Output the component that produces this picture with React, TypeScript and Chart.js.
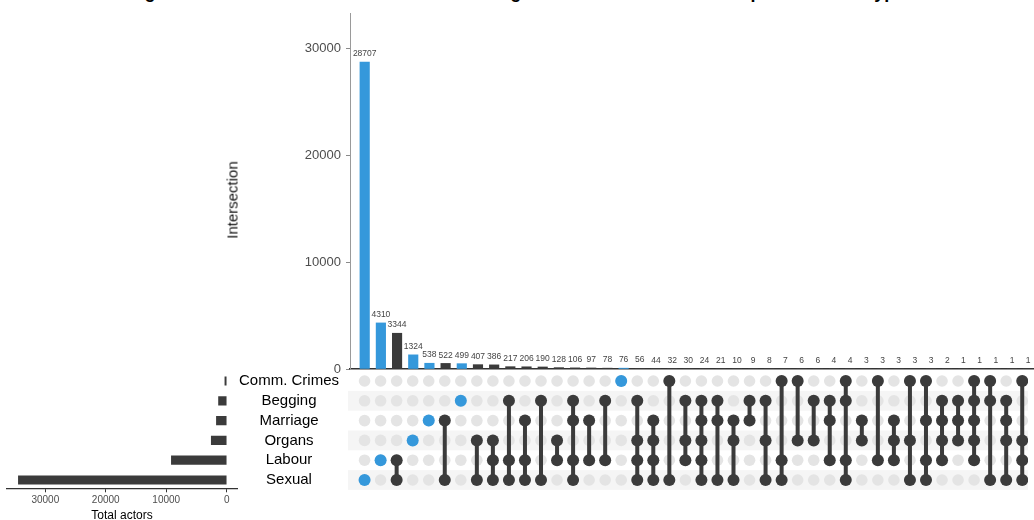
import React, { useEffect, useRef } from "react";
import { Chart, registerables } from "chart.js";

Chart.register(...registerables);

// ---------- data ----------
const TITLE =
  "Figure 5: Total number of identified trafficking actors involved in each exploitation subtype";

// set rows, bottom to top
const SETS = ["Sexual", "Labour", "Organs", "Marriage", "Begging", "Comm. Crimes"];
const SET_TOTALS = [34450, 9150, 2550, 1700, 1350, 300];

const INTERSECTION_COUNTS = [
  28707, 4310, 3344, 1324, 538, 522, 499, 407, 386, 217, 206, 190, 128, 106, 97, 78, 76, 56, 44, 32,
  30, 24, 21, 10, 9, 8, 7, 6, 6, 4, 4, 3, 3, 3, 3, 3, 2, 1, 1, 1, 1, 1,
];

const INTERSECTION_MEMBERS: string[][] = [
  ["Sexual"],
  ["Labour"],
  ["Labour", "Sexual"],
  ["Organs"],
  ["Marriage"],
  ["Marriage", "Sexual"],
  ["Begging"],
  ["Organs", "Sexual"],
  ["Organs", "Labour", "Sexual"],
  ["Begging", "Labour", "Sexual"],
  ["Marriage", "Labour", "Sexual"],
  ["Begging", "Sexual"],
  ["Organs", "Labour"],
  ["Begging", "Marriage", "Labour", "Sexual"],
  ["Marriage", "Labour"],
  ["Begging", "Labour"],
  ["Comm. Crimes"],
  ["Begging", "Organs", "Labour", "Sexual"],
  ["Marriage", "Organs", "Labour", "Sexual"],
  ["Comm. Crimes", "Sexual"],
  ["Begging", "Organs", "Labour"],
  ["Begging", "Marriage", "Organs", "Labour", "Sexual"],
  ["Begging", "Marriage", "Sexual"],
  ["Marriage", "Organs", "Sexual"],
  ["Begging", "Marriage"],
  ["Begging", "Organs", "Sexual"],
  ["Comm. Crimes", "Labour", "Sexual"],
  ["Comm. Crimes", "Organs"],
  ["Begging", "Organs"],
  ["Begging", "Marriage", "Labour"],
  ["Comm. Crimes", "Begging", "Labour", "Sexual"],
  ["Marriage", "Organs"],
  ["Comm. Crimes", "Labour"],
  ["Marriage", "Organs", "Labour"],
  ["Comm. Crimes", "Organs", "Sexual"],
  ["Comm. Crimes", "Marriage", "Labour", "Sexual"],
  ["Begging", "Marriage", "Organs", "Labour"],
  ["Begging", "Marriage", "Organs"],
  ["Comm. Crimes", "Begging", "Marriage", "Organs", "Labour"],
  ["Comm. Crimes", "Begging", "Sexual"],
  ["Begging", "Marriage", "Organs", "Sexual"],
  ["Comm. Crimes", "Organs", "Labour", "Sexual"],
];

const INTERSECTION_TICKS = [0, 10000, 20000, 30000];
const SET_SIZE_TICKS = [0, 10000, 20000, 30000];

// ---------- styles ----------
const FONT = "'Liberation Sans', Arial, Helvetica, sans-serif";
const BLUE = "#3598DB";
const DARK = "#3B3B3B";
const EMPTY = "#E4E4E4";
const BAND = "#F5F5F5";

const X_MIN = -0.908;
const X_MAX = 41.36;

const valueLabels = {
  id: "valueLabels",
  afterDatasetsDraw(chart: any) {
    const ctx = chart.ctx;
    const meta = chart.getDatasetMeta(0);
    ctx.save();
    ctx.font = `8.5px ${FONT}`;
    ctx.fillStyle = "#444444";
    ctx.textAlign = "center";
    ctx.textBaseline = "bottom";
    meta.data.forEach((el: any, i: number) => {
      ctx.fillText(String(INTERSECTION_COUNTS[i]), el.x, el.y - 4);
    });
    ctx.restore();
  },
};

const rowBands = {
  id: "rowBands",
  beforeDatasetsDraw(chart: any) {
    const { ctx, chartArea, scales } = chart;
    const y = scales.y;
    ctx.save();
    ctx.fillStyle = BAND;
    [0, 2, 4].forEach((r) => {
      const t = y.getPixelForValue(r + 0.5);
      const b = y.getPixelForValue(r - 0.5);
      ctx.fillRect(chartArea.left - 2, t, chartArea.right - chartArea.left + 2, b - t);
    });
    ctx.restore();
  },
};

const plain = (v: any) => String(v);

export default function App() {
  const barRef = useRef<HTMLCanvasElement>(null);
  const matRef = useRef<HTMLCanvasElement>(null);
  const setRef = useRef<HTMLCanvasElement>(null);

  useEffect(() => {
    const charts: Chart[] = [];

    // intersection bars
    charts.push(
      new Chart(barRef.current!, {
        type: "bar",
        data: {
          datasets: [
            {
              data: INTERSECTION_COUNTS.map((v, i) => ({ x: i, y: v })) as any,
              backgroundColor: INTERSECTION_MEMBERS.map((m) => (m.length === 1 ? BLUE : DARK)),
              barThickness: 9.5,
              borderWidth: 0,
            },
          ],
        },
        options: {
          animation: false,
          responsive: false,
          layout: { padding: { top: 13, left: 0, right: 0, bottom: 0 } },
          plugins: { legend: { display: false }, tooltip: { enabled: false } },
          scales: {
            x: {
              type: "linear",
              min: X_MIN,
              max: X_MAX,
              offset: false,
              grid: { display: false },
              ticks: { display: false },
              border: { display: true, color: "#333333", width: 1.5 },
              afterFit: (s: any) => {
                s.height = 21;
              },
            },
            y: {
              type: "linear",
              min: 0,
              max: 33300,
              grid: { display: true, drawOnChartArea: false, drawTicks: true, tickLength: 4, color: "#8a8a8a" },
              border: { display: true, color: "#9a9a9a", width: 1 },
              ticks: { font: { family: FONT, size: 13 }, color: "#4d4d4d", padding: 5, callback: plain },
              afterBuildTicks: (s: any) => {
                s.ticks = INTERSECTION_TICKS.map((v) => ({ value: v }));
              },
              afterFit: (s: any) => {
                s.width = 350;
              },
            },
          },
        } as any,
        plugins: [valueLabels],
      })
    );

    // matrix
    const emptyPts: any[] = [];
    const linkPts: any[] = [];
    INTERSECTION_MEMBERS.forEach((members, i) => {
      SETS.forEach((_, r) => emptyPts.push({ x: i, y: r }));
      const rows = members.map((m) => SETS.indexOf(m)).sort((a, b) => a - b);
      const col = members.length === 1 ? BLUE : DARK;
      rows.forEach((r) => linkPts.push({ x: i, y: r, c: col }));
      linkPts.push({ x: i, y: null, c: col });
    });

    charts.push(
      new Chart(matRef.current!, {
        type: "scatter",
        data: {
          datasets: [
            {
              type: "line",
              data: linkPts,
              borderColor: DARK,
              borderWidth: 4,
              pointRadius: 6,
              pointBorderWidth: 0,
              pointBackgroundColor: (c: any) => (c.raw && c.raw.c) || DARK,
              spanGaps: false,
              showLine: true,
              order: 0,
            } as any,
            {
              data: emptyPts,
              pointRadius: 5.8,
              backgroundColor: EMPTY,
              pointBorderWidth: 0,
              borderWidth: 0,
              order: 1,
            } as any,
          ],
        },
        options: {
          animation: false,
          responsive: false,
          layout: { padding: { top: 30, bottom: 25, left: 0, right: 0 } },
          plugins: { legend: { display: false }, tooltip: { enabled: false } },
          scales: {
            x: { type: "linear", min: X_MIN, max: X_MAX, display: false },
            y: {
              type: "linear",
              min: -0.7576,
              max: 5.556,
              grid: { display: false },
              border: { display: false },
              ticks: {
                font: { family: FONT, size: 15 },
                color: "#000000",
                crossAlign: "center",
                padding: 3,
                callback: (v: any) => SETS[v] ?? "",
              },
              afterBuildTicks: (s: any) => {
                s.ticks = SETS.map((_, i) => ({ value: i }));
              },
              afterFit: (s: any) => {
                s.width = 350;
              },
            },
          },
        } as any,
        plugins: [rowBands],
      })
    );

    // set sizes
    charts.push(
      new Chart(setRef.current!, {
        type: "bar",
        data: {
          datasets: [
            {
              data: SET_TOTALS.map((v, i) => ({ x: v, y: i })) as any,
              backgroundColor: DARK,
              barThickness: 8.5,
              borderWidth: 0,
            },
          ],
        },
        options: {
          animation: false,
          responsive: false,
          indexAxis: "y",
          layout: { padding: { left: 7, right: 8, top: 0, bottom: 0 } },
          plugins: { legend: { display: false }, tooltip: { enabled: false } },
          scales: {
            x: {
              type: "linear",
              reverse: true,
              min: -1703,
              max: 36333,
              grid: { display: true, drawOnChartArea: false, drawTicks: true, tickLength: 4, color: "#333333" },
              border: { display: true, color: "#333333", width: 1.2 },
              ticks: { font: { family: FONT, size: 10 }, color: "#4d4d4d", padding: 2, callback: plain },
              afterBuildTicks: (s: any) => {
                s.ticks = SET_SIZE_TICKS.map((v) => ({ value: v }));
              },
              title: {
                display: true,
                text: "Total actors",
                font: { family: FONT, size: 12 },
                color: "#000000",
                padding: 0,
              },
              afterFit: (s: any) => {
                s.height = 34.7;
              },
            },
            y: { type: "linear", min: -0.419, max: 5.556, display: false, offset: false },
          },
        } as any,
      })
    );

    return () => charts.forEach((c) => c.destroy());
  }, []);

  return (
    <div
      style={{
        position: "fixed",
        left: 0,
        top: 0,
        width: 1034,
        height: 520,
        overflow: "hidden",
        background: "#ffffff",
        fontFamily: FONT,
      }}
    >
      <div
        style={{
          position: "absolute",
          left: 0,
          top: -17.5,
          width: 1034,
          textAlign: "center",
          fontWeight: "bold",
          fontSize: 18,
          lineHeight: "18px",
          whiteSpace: "nowrap",
          color: "#000",
        }}
      >
        {TITLE}
      </div>
      <canvas
        ref={barRef}
        width={1034}
        height={390}
        style={{ position: "absolute", left: 0, top: 0, width: 1034, height: 390 }}
      />
      <canvas
        ref={setRef}
        width={245}
        height={153}
        style={{ position: "absolute", left: 0, top: 370, width: 245, height: 153 }}
      />
      <canvas
        ref={matRef}
        width={1034}
        height={180}
        style={{ position: "absolute", left: 0, top: 340, width: 1034, height: 180 }}
      />
      <div
        style={{
          position: "absolute",
          left: 232,
          top: 200,
          transform: "translate(-50%, -50%) rotate(-90deg)",
          fontSize: 15,
          fontWeight: "normal",
          whiteSpace: "nowrap",
          color: "#111",
        }}
      >
        Intersection
      </div>
    </div>
  );
}
